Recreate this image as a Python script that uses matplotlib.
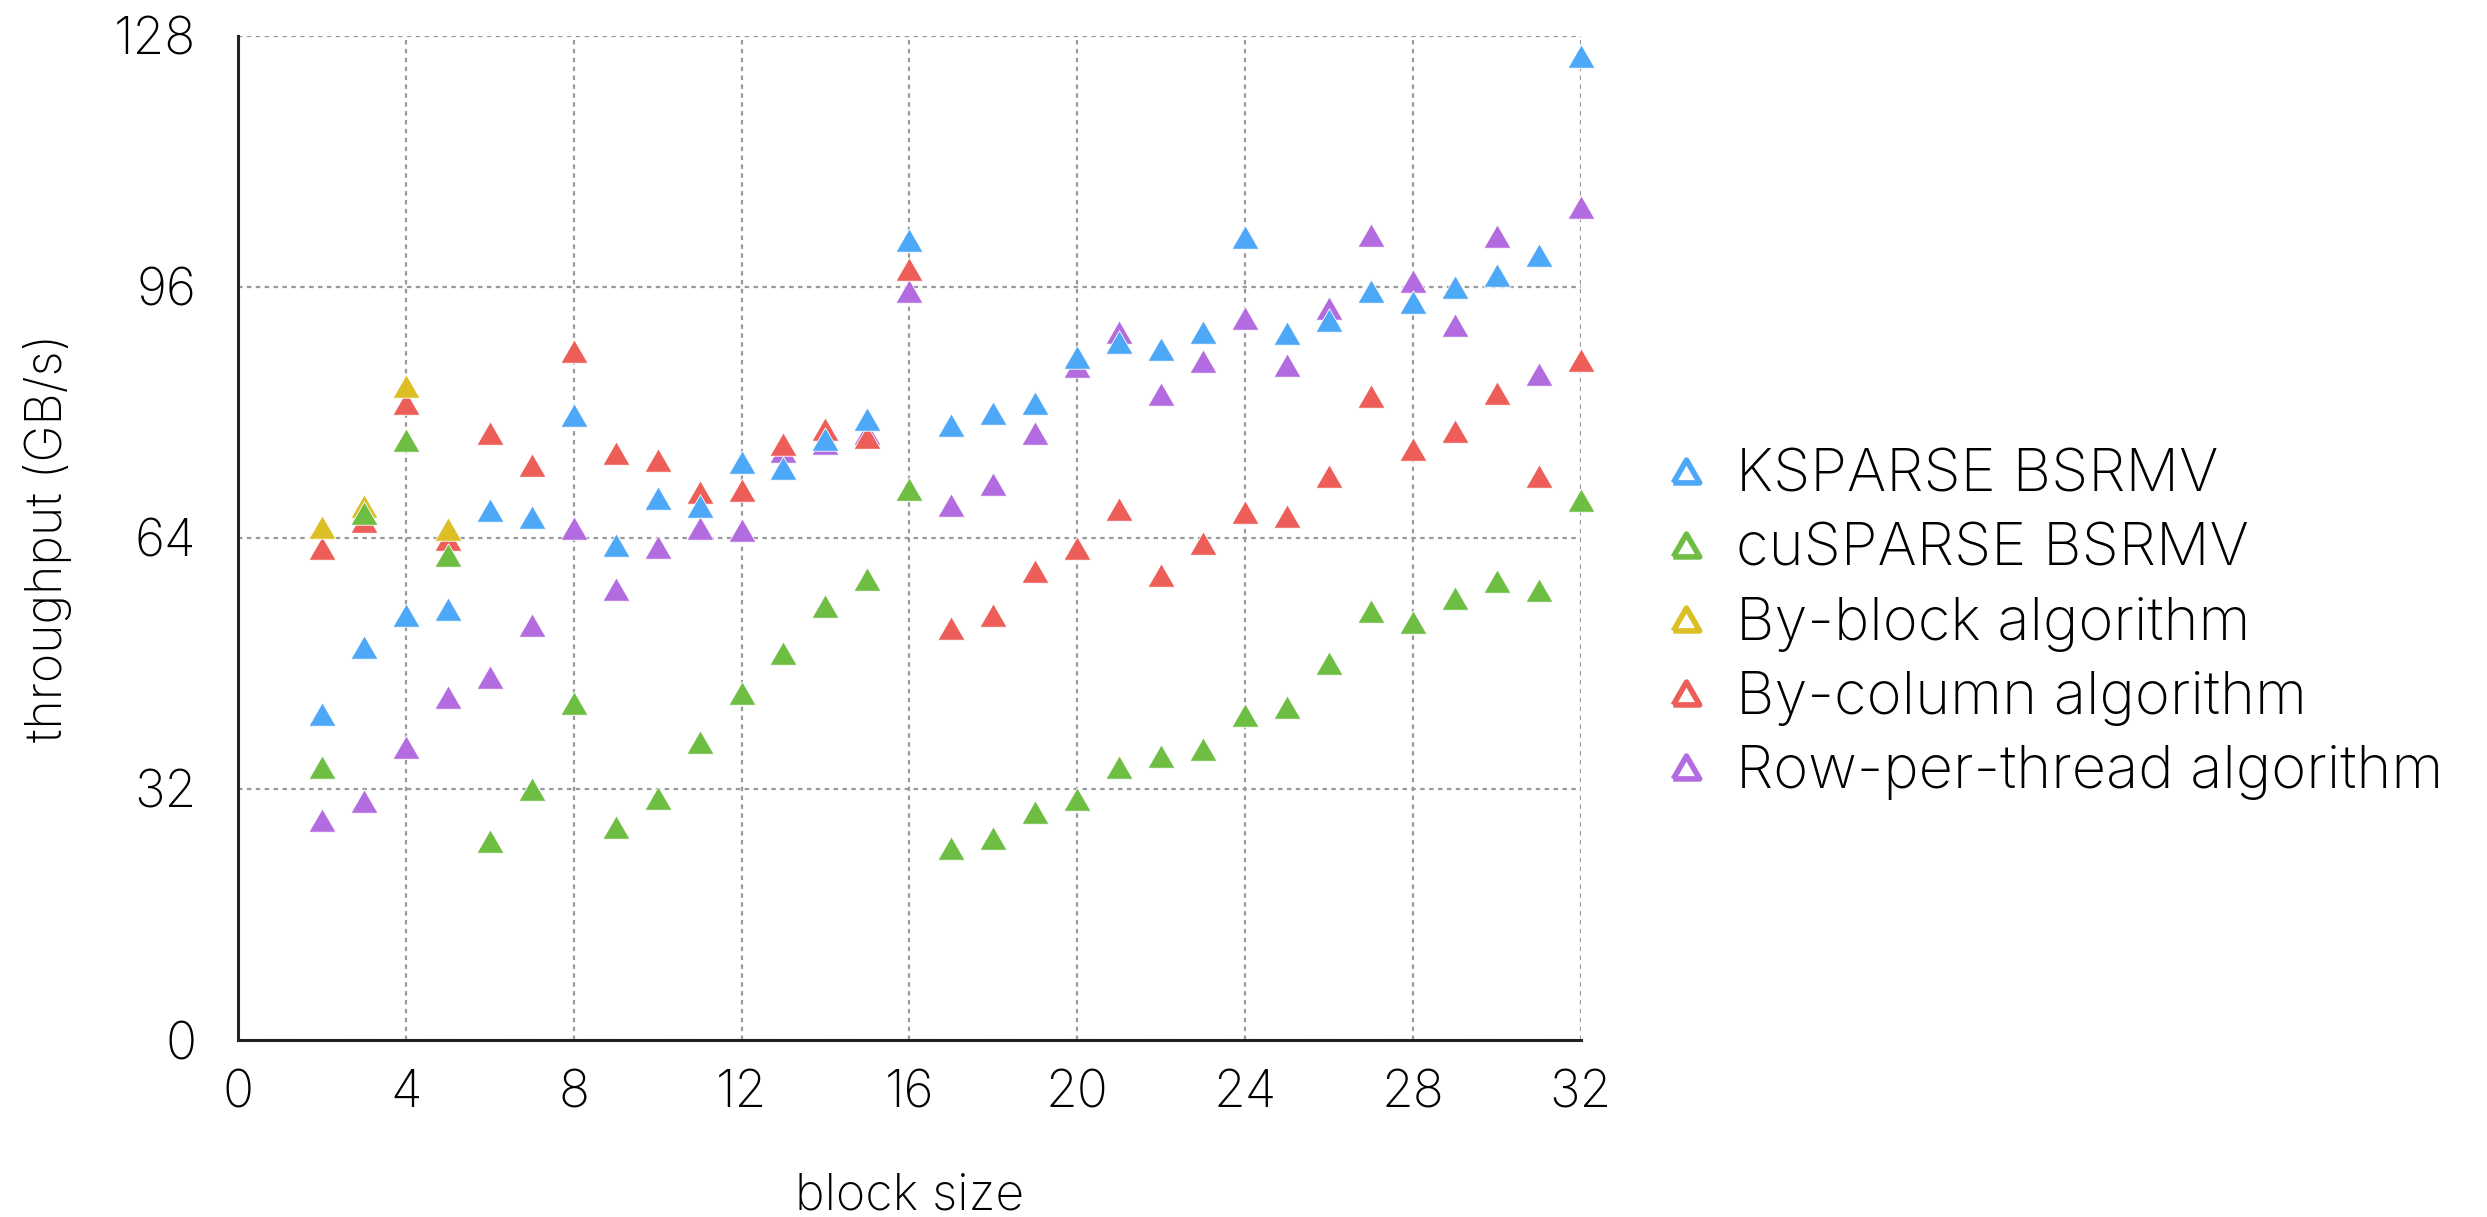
import numpy as np
import matplotlib
matplotlib.use('Agg')
import matplotlib.pyplot as plt
from matplotlib.lines import Line2D

plt.rcParams['font.family'] = ['Inter', 'DejaVu Sans']
plt.rcParams['font.weight'] = 'light'
plt.rcParams['axes.labelweight'] = 'light'

# block sizes 2..32
block_size = list(range(2, 33))

ksparse = [41.6, 50.1, 54.1, 54.9, 67.6, 66.7, 79.7, 63.1, 69.1, 68.0, 73.7,
           72.9, 76.6, 79.1, 102.0, 78.4, 79.9, 81.2, 87.1, 89.0, 88.1, 90.2,
           102.3, 90.1, 91.7, 95.4, 94.1, 95.9, 97.5, 100.0, 125.4]
cusparse = [34.8, 67.2, 76.4, 61.8, 25.4, 32.0, 42.9, 27.1, 30.9, 38.0, 44.2,
            49.3, 55.3, 58.8, 70.2, 24.5, 25.7, 29.1, 30.7, 34.8, 36.2, 37.1,
            41.4, 42.4, 48.0, 54.7, 53.3, 56.3, 58.5, 57.4, 68.8]
by_block_x = [2, 3, 4, 5]
by_block = [65.4, 68.1, 83.3, 65.1]
by_column = [62.7, 66.2, 81.2, 63.8, 77.4, 73.3, 87.8, 74.8, 73.9, 69.8, 70.1,
             75.9, 77.9, 76.9, 98.3, 52.5, 54.2, 59.8, 62.7, 67.7, 59.3, 63.4,
             67.3, 66.8, 71.9, 82.1, 75.3, 77.6, 82.5, 71.9, 86.7]
row_per_thread = [28.1, 30.4, 37.4, 43.7, 46.2, 52.9, 65.3, 57.5, 62.8, 65.3,
                  65.0, 75.1, 76.1, 77.3, 95.5, 68.2, 70.9, 77.4, 85.9, 90.2,
                  82.3, 86.5, 92.0, 86.0, 93.3, 102.6, 96.7, 91.1, 102.4, 84.9,
                  106.2]

labels = ['KSPARSE BSRMV', 'cuSPARSE BSRMV', 'By-block algorithm',
          'By-column algorithm', 'Row-per-thread algorithm']
colors = ['#4DA8F7', '#6EBE44', '#DCBF24', '#EC5E57', '#B36CDF']

x_ticks = [0, 4, 8, 12, 16, 20, 24, 28, 32]
y_ticks = [0, 32, 64, 96, 128]

# equilateral triangle, centred on its bounding box
tri = [(-1, -0.866), (1, -0.866), (0, 0.866), (-1, -0.866)]

series = [(block_size, ksparse), (block_size, cusparse), (by_block_x, by_block),
          (block_size, by_column), (block_size, row_per_thread)]

fig = plt.figure(figsize=(24.87, 12.17), dpi=100)
ax = fig.add_axes([0.0957, 0.1454, 0.5399, 0.8254])

# draw in reverse so KSPARSE ends on top
for (xs, ys), c in reversed(list(zip(series, colors))):
    ax.plot(xs, ys, linestyle='none', marker=tri, markersize=19.5,
            markerfacecolor=c, markeredgecolor='white', markeredgewidth=0.6,
            clip_on=False, zorder=3)

ax.set_xlim(0, 32)
ax.set_ylim(0, 128)
ax.set_xticks(x_ticks)
ax.set_yticks(y_ticks)
ax.grid(True, color='#999999', linestyle=(0, (2, 2)), linewidth=1.6)
ax.set_axisbelow(True)
for s in ['top', 'right']:
    ax.spines[s].set_visible(False)
for s in ['left', 'bottom']:
    ax.spines[s].set_linewidth(2.2)
    ax.spines[s].set_color('#222222')
ax.tick_params(axis='both', length=0, labelsize=37)
ax.tick_params(axis='x', pad=21)
ax.tick_params(axis='y', pad=30)

ax.set_xlabel('block size', fontsize=36, va='baseline')
ax.xaxis.set_label_coords(0.5, -0.169)
ax.set_ylabel('throughput (GB/s)', fontsize=36, va='center')
ax.yaxis.set_label_coords(-0.142, 0.5)

handles = [Line2D([], [], linestyle='none', marker=tri, markersize=19,
                  markerfacecolor='white', markeredgecolor=c,
                  markeredgewidth=4) for c in colors]
fig.legend(handles, labels, loc='center left', bbox_to_anchor=(0.6445, 0.487),
           frameon=False, fontsize=43, handletextpad=0.33, labelspacing=0.32,
           handlelength=1.0, borderpad=0.4)

fig.savefig('out.png', dpi=100)
